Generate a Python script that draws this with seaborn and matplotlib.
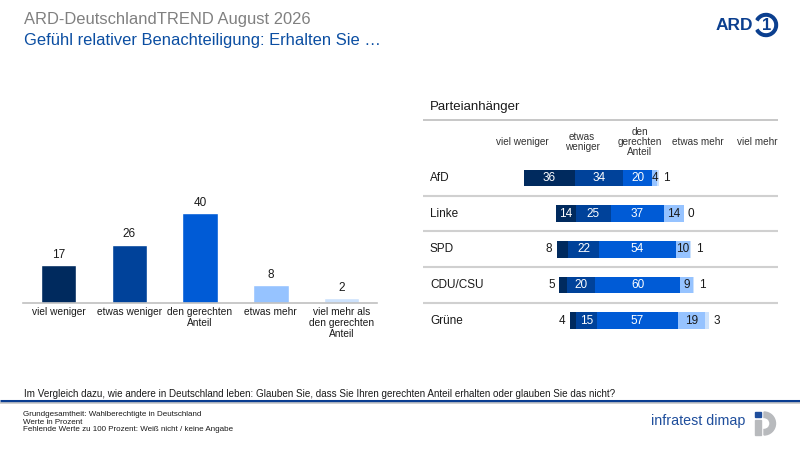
import matplotlib
matplotlib.use("Agg")
import matplotlib.pyplot as plt
import seaborn as sns
import pandas as pd
import numpy as np
from matplotlib.patches import Wedge, Rectangle, Circle

sns.set_theme(style="white")
plt.rcParams['font.family'] = ['Liberation Sans', 'DejaVu Sans']

# ---------------- data ----------------
categories = ["viel weniger", "etwas weniger", "den gerechten\nAnteil", "etwas mehr",
              "viel mehr als\nden gerechten\nAnteil"]
overall = [17, 26, 40, 8, 2]

parties = ["AfD", "Linke", "SPD", "CDU/CSU", "Grüne"]
viel_weniger = [36, 14, 8, 5, 4]
etwas_weniger = [34, 25, 22, 20, 15]
gerechter_anteil = [20, 37, 54, 60, 57]
etwas_mehr = [4, 14, 10, 9, 19]
viel_mehr = [1, 0, 1, 1, 3]
col_headers = ["viel weniger", "etwas\nweniger", "den\ngerechten\nAnteil", "etwas mehr", "viel mehr"]

colors = ["#002a5e", "#00429a", "#005bd6", "#96c3ff", "#cde2fc"]
TXT = "#1a1a1a"

W, H = 800, 450
fig = plt.figure(figsize=(8, 4.5), dpi=100)

def fx(px):
    return px / W

def fy(py):
    return 1 - py / H

# ---------------- overlay for decorations ----------------
ov = fig.add_axes([0, 0, 1, 1], zorder=-1)
ov.set_xlim(0, W)
ov.set_ylim(H, 0)
ov.axis("off")

# titles
fig.text(fx(24), fy(24), "ARD-DeutschlandTREND August 2026", fontsize=11.9,
         color="#808080", va="baseline", ha="left")
fig.text(fx(24), fy(45), "Gefühl relativer Benachteiligung: Erhalten Sie …", fontsize=11.9,
         color="#0b4ea2", va="baseline", ha="left")

# ARD logo
ov.text(753, 25.5, "ARD", fontsize=12.5, fontweight="bold", color="#0b3f8f",
        ha="right", va="center")
ov.add_patch(Wedge((766, 25), 11.5, -150, 150, width=2.6, color="#0b3f8f"))
ov.text(766.5, 25.5, "1", fontsize=12, fontweight="bold", color="#0b3f8f",
        ha="center", va="center")

# ---------------- left bar chart ----------------
axL = fig.add_axes([fx(23), fy(302.7), fx(354), 111.75 / H])
dfL = pd.DataFrame({"cat": categories, "val": overall})
sns.barplot(data=dfL, x="cat", y="val", hue="cat", palette=colors, legend=False,
            width=0.5, ax=axL, saturation=1)
axL.set_ylim(0, 50)
axL.set_xlim(-0.5, 4.5)
for c in axL.containers:
    axL.bar_label(c, labels=[f"{int(v)}" for v in c.datavalues], padding=3,
                  fontsize=8.5, color=TXT)
axL.set_xlabel("")
axL.set_ylabel("")
axL.set_yticks([])
for s in ["top", "right", "left"]:
    axL.spines[s].set_visible(False)
axL.spines["bottom"].set_color("#c0c0c0")
axL.spines["bottom"].set_linewidth(1.2)
axL.tick_params(axis="x", length=0, pad=3, labelsize=7.3, labelcolor=TXT)
for t in axL.get_xticklabels():
    t.set_linespacing(1.15)
    t.set_va("top")

# ---------------- right diverging chart ----------------
ppu = 1.42  # pixels per unit
x0px, x1px, cpx = 423, 778, 637.5
axR = fig.add_axes([fx(x0px), fy(338.55), fx(x1px - x0px), 178.5 / H])

dfR = pd.DataFrame({"party": parties, "vw": viel_weniger, "ew": etwas_weniger,
                    "ga": gerechter_anteil, "em": etwas_mehr, "vm": viel_mehr})
half = dfR["ga"] / 2
layers = [
    (half + dfR["em"] + dfR["vm"], colors[4]),
    (half + dfR["em"], colors[3]),
    (-(half + dfR["ew"] + dfR["vw"]), colors[0]),
    (-(half + dfR["ew"]), colors[1]),
    (half, colors[2]),
    (-half, colors[2]),
]
for vals, col in layers:
    d = pd.DataFrame({"party": parties, "v": vals.values})
    sns.barplot(data=d, x="v", y="party", orient="h", color=col, saturation=1,
                width=0.47, ax=axR, linewidth=0, edgecolor=col)

axR.set_xlim((x0px - cpx) / ppu, (x1px - cpx) / ppu)
axR.set_ylim(4.5, -0.5)
axR.axis("off")

off_out = 3.0
for i in range(len(parties)):
    vw, ew, ga, em, vm = (viel_weniger[i], etwas_weniger[i], gerechter_anteil[i],
                          etwas_mehr[i], viel_mehr[i])
    h = ga / 2
    if vw >= 10:
        axR.text(-(h + ew + vw / 2), i, str(vw), color="white", fontsize=8.5,
                 ha="center", va="center")
    else:
        axR.text(-(h + ew + vw) - off_out, i, str(vw), color=TXT, fontsize=8.5,
                 ha="right", va="center")
    axR.text(-(h + ew / 2), i, str(ew), color="white", fontsize=8.5, ha="center", va="center")
    axR.text(0, i, str(ga), color="white", fontsize=8.5, ha="center", va="center")
    axR.text(h + em / 2, i, str(em), color=TXT, fontsize=8.5, ha="center", va="center")
    axR.text(h + em + vm + off_out, i, str(vm), color=TXT, fontsize=8.5,
             ha="left", va="center")
    axR.text((430 - cpx) / ppu, i, parties[i], color=TXT, fontsize=8.5,
             ha="left", va="center")

for yy in [196, 231, 266.7, 302.7]:
    ov.plot([423, 778], [yy, yy], color="#d0d0d0", lw=1.5, solid_capstyle="butt")
ov.plot([423, 778], [120, 120], color="#bdbdbd", lw=1.2, solid_capstyle="butt")

fig.text(fx(430), fy(107), "Parteianhänger", fontsize=9.5, color=TXT, ha="left", va="center")
for xpx, lab in zip([522, 582, 640, 698, 757], col_headers):
    fig.text(fx(xpx), fy(142), lab, fontsize=7.2, color="#333333", ha="center",
             va="center", linespacing=1.05)

# ---------------- footer ----------------
narrow = ['Liberation Sans Narrow', 'Liberation Sans', 'DejaVu Sans']
fig.text(fx(24), fy(394),
         "Im Vergleich dazu, wie andere in Deutschland leben: Glauben Sie, dass Sie Ihren "
         "gerechten Anteil erhalten oder glauben Sie das nicht?",
         fontsize=7.15, color=TXT, ha="left", va="center", family=narrow)
ov.plot([0, 800], [401, 401], color="#0a3d91", lw=2.2, solid_capstyle="butt")
ov.plot([0, 800], [403.3, 403.3], color="#c8c8c8", lw=1.2, solid_capstyle="butt")
for yy, line in zip([415, 422.3, 429.3],
                    ["Grundgesamtheit: Wahlberechtigte in Deutschland",
                     "Werte in Prozent",
                     "Fehlende Werte zu 100 Prozent: Weiß nicht / keine Angabe"]):
    fig.text(fx(23), fy(yy), line, fontsize=5.8, color=TXT, ha="left", va="center",
             family=narrow)

# infratest dimap logo
ov.text(745, 421, "infratest dimap", fontsize=10.3, color="#1f4e9c", ha="right",
        va="center", family=narrow)
ov.add_patch(Wedge((764, 423.5), 11.5, -90, 90, width=5.5, color="#b8babd"))
ov.add_patch(Rectangle((755, 420), 5.5, 15, color="#b8babd"))
ov.add_patch(Rectangle((755, 411.5), 5.5, 5.5, color="#1f4e9c"))

fig.savefig("out.png", dpi=100)
